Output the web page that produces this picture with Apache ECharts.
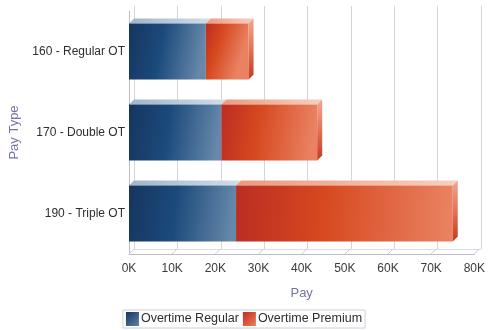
<!DOCTYPE html>
<html><head><meta charset="utf-8">
<script src="https://cdn.jsdelivr.net/npm/echarts@6/dist/echarts.min.js"></script>
<style>html,body{margin:0;padding:0;background:#fff}#c{width:488px;height:330px}</style>
</head><body><div id="c"></div>
<script>
const categories = ['160 - Regular OT', '170 - Double OT', '190 - Triple OT'];
const overtimeRegular = [17800, 21400, 24800];
const overtimePremium = [9900, 22200, 50200];
const xTicks = [0, 10000, 20000, 30000, 40000, 50000, 60000, 70000, 80000];
const seriesNames = ['Overtime Regular', 'Overtime Premium'];

const D = 5;
const FONT = '"Liberation Sans", Arial, sans-serif';
const LG = echarts.graphic.LinearGradient;

const blueFront = new LG(0, 0, 1, 0.25, [
  {offset: 0, color: '#163560'}, {offset: 0.45, color: '#1b4a7b'}, {offset: 1, color: '#6688aa'}]);
const blueTop = new LG(0, 0, 1, 0, [
  {offset: 0, color: '#9fb5ca'}, {offset: 1, color: '#d2dde7'}]);
const redFront = new LG(0, 0, 1, 0.25, [
  {offset: 0, color: '#bb2d22'}, {offset: 0.4, color: '#d6481f'}, {offset: 1, color: '#ea8262'}]);
const redTop = new LG(0, 0, 1, 0, [
  {offset: 0, color: '#eb9a80'}, {offset: 1, color: '#f8cfc0'}]);
const redSide = new LG(0, 0, 0, 1, [
  {offset: 0, color: '#f2a690'}, {offset: 0.5, color: '#e27356'}, {offset: 1, color: '#c43a20'}]);
const blueSide = new LG(0, 0, 0, 1, [
  {offset: 0, color: '#9fb5ca'}, {offset: 1, color: '#1b4a7b'}]);

const legendBlue = new LG(0, 0, 1, 1, [{offset: 0, color: '#163560'}, {offset: 1, color: '#5f82a6'}]);
const legendRed = new LG(0, 0, 1, 1, [{offset: 0, color: '#c0301f'}, {offset: 1, color: '#ea7e5c'}]);

function barRender(front, top, side, drawSide) {
  return function (params, api) {
    const s = api.value(0), e = api.value(1), c = api.value(2);
    const p0 = api.coord([s, c]), p1 = api.coord([e, c]);
    const h = api.size([0, 1])[1] * 0.69;
    const x0 = p0[0], x1 = p1[0], t = p0[1] - h / 2, b = p0[1] + h / 2;
    const children = [
      {type: 'polygon', shape: {points: [[x0, t], [x0 + D, t - D], [x1 + D, t - D], [x1, t]]}, style: {fill: top}},
      {type: 'rect', shape: {x: x0, y: t, width: x1 - x0, height: h}, style: {fill: front}}
    ];
    if (drawSide) children.push({type: 'polygon', shape: {points: [[x1, t], [x1 + D, t - D], [x1 + D, b - D], [x1, b]]}, style: {fill: side}});
    return {type: 'group', children};
  };
}

const regData = categories.map((c, i) => [0, overtimeRegular[i], i]);
const premData = categories.map((c, i) => [overtimeRegular[i], overtimeRegular[i] + overtimePremium[i], i]);
const floorData = xTicks.map(v => [v, 0]);

const chart = echarts.init(document.getElementById('c'), null, {renderer: 'canvas'});
chart.setOption({
  animation: false,
  backgroundColor: '#fff',
  grid: [
    {left: 129, right: 12, top: 11, bottom: 76},
    {left: 129 + D, right: 12 - D, top: 11 - D, bottom: 76 + D}
  ],
  xAxis: [
    {gridIndex: 0, type: 'value', min: 0, max: 80000, interval: 10000,
      axisLine: {show: true, lineStyle: {color: '#bdbdcc', width: 1}},
      axisTick: {show: false}, splitLine: {show: false},
      axisLabel: {formatter: v => (v / 1000) + 'K', color: '#3a3a3a', fontFamily: FONT, fontSize: 12, margin: 9},
      name: 'Pay', nameLocation: 'middle', nameGap: 33,
      nameTextStyle: {color: '#7474a6', fontFamily: FONT, fontSize: 13}},
    {gridIndex: 1, type: 'value', min: 0, max: 80000, interval: 10000,
      axisLine: {show: true, lineStyle: {color: '#dcdce6'}}, axisTick: {show: false},
      axisLabel: {show: false}, splitLine: {show: true, lineStyle: {color: '#d4d4e0', width: 1}}}
  ],
  yAxis: [
    {gridIndex: 0, type: 'category', data: categories, inverse: true,
      axisLine: {show: true, lineStyle: {color: '#bdbdcc'}}, axisTick: {show: false},
      axisLabel: {color: '#2e2e2e', fontFamily: FONT, fontSize: 12, margin: 4},
      name: 'Pay Type', nameLocation: 'middle', nameGap: 106, nameRotate: 90,
      nameTextStyle: {color: '#7474a6', fontFamily: FONT, fontSize: 13}},
    {gridIndex: 1, type: 'category', data: categories, inverse: true, show: false}
  ],
  legend: {
    data: [{name: seriesNames[0], itemStyle: {color: legendBlue}}, {name: seriesNames[1], itemStyle: {color: legendRed}}],
    left: 'center', top: 310, icon: 'rect', itemWidth: 13, itemHeight: 14, itemGap: 4,
    borderColor: '#cfcfd8', borderWidth: 1, borderRadius: 0, padding: [2, 3, 2, 3],
    textStyle: {color: '#2e2e2e', fontFamily: FONT, fontSize: 12.5, padding: [0, 0, 0, -3]}
  },
  series: [
    {type: 'custom', name: 'floor', xAxisIndex: 0, yAxisIndex: 0, data: floorData, encode: {x: 0, y: 1}, z: 1, silent: true,
      renderItem: function (params, api) {
        const p = api.coord([api.value(0), 0]);
        const bottom = params.coordSys.y + params.coordSys.height;
        return {type: 'line', shape: {x1: p[0], y1: bottom, x2: p[0] + D, y2: bottom - D},
          style: {stroke: '#c8c8d6', lineWidth: 1}};
      }},
    {type: 'custom', name: seriesNames[0], xAxisIndex: 0, yAxisIndex: 0, data: regData, encode: {x: [0, 1], y: 2}, z: 3,
      itemStyle: {color: legendBlue}, renderItem: barRender(blueFront, blueTop, blueSide, false)},
    {type: 'custom', name: seriesNames[1], xAxisIndex: 0, yAxisIndex: 0, data: premData, encode: {x: [0, 1], y: 2}, z: 3,
      itemStyle: {color: legendRed}, renderItem: barRender(redFront, redTop, redSide, true)}
  ]
});
</script>
</body></html>
